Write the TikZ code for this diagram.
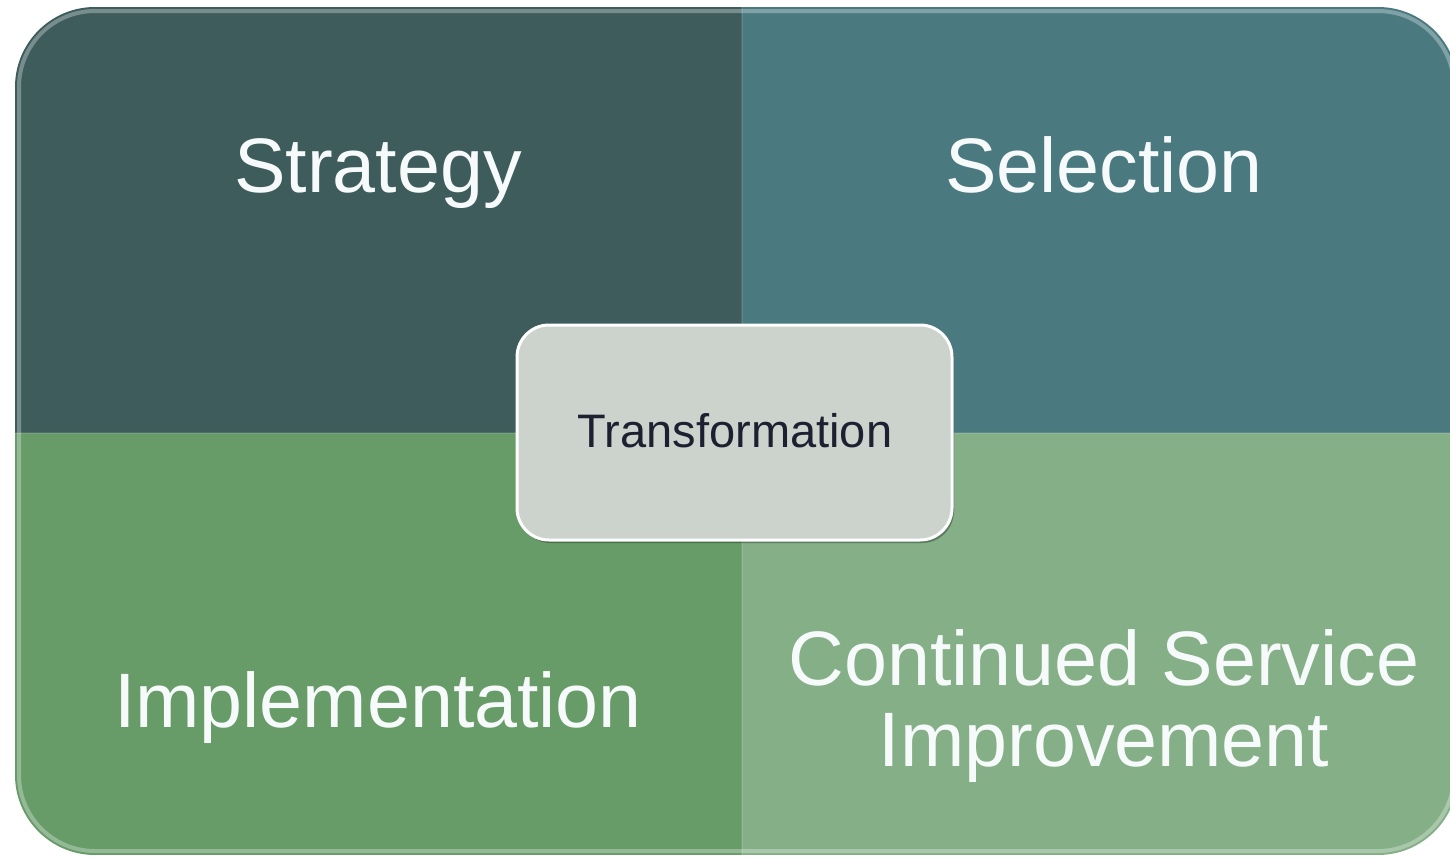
\documentclass[tikz,border=0pt]{standalone}
\usepackage{fontspec}
\setmainfont{Liberation Sans}
\usetikzlibrary{shadows}
\definecolor{qStrategy}{HTML}{3E5C5C}
\definecolor{qSelection}{HTML}{4A7A80}
\definecolor{qImplement}{HTML}{679C69}
\definecolor{qImprove}{HTML}{85AF87}
\definecolor{hubFill}{HTML}{CBD3CC}
\definecolor{hubText}{HTML}{1C2030}
\definecolor{labelText}{HTML}{F7FAFA}
\tikzset{
  quadlabel/.style={text=labelText, font=\fontsize{38.6bp}{41bp}\selectfont, anchor=base, inner sep=0pt},
  hubbox/.style={rounded corners=16bp, fill=hubFill, draw=white, line width=1.5bp,
    drop shadow={shadow xshift=1bp, shadow yshift=-1.5bp, fill=black, opacity=0.3},
    minimum width=217.5bp, minimum height=107.5bp, inner sep=0pt},
  hublabel/.style={text=hubText, font=\fontsize{23.5bp}{26bp}\selectfont, anchor=base, inner sep=0pt},
  seam/.style={line width=1bp, draw=white, opacity=0.1}
}
\begin{document}
\begin{tikzpicture}[x=0.5bp, y=-0.5bp]
  \useasboundingbox (0,0) rectangle (1450,858);
  % four quadrants inside one rounded outline
  \begin{scope}
    \clip[rounded corners=40bp] (15,7) rectangle (1458,855);
    \fill[qStrategy]  (15,7)    rectangle (742,433);
    \fill[qSelection] (742,7)   rectangle (1458,433);
    \fill[qImplement] (15,433)  rectangle (742,855);
    \fill[qImprove]   (742,433) rectangle (1458,855);
    % bevel highlight along the outline
    \draw[white, opacity=0.3, line width=2bp, rounded corners=38bp] (19,11) rectangle (1454,851);
    % seams between quadrants
    \draw[seam] (742,7) -- (742,855);
    \draw[seam] (15,433) -- (1458,433);
  \end{scope}
  % quadrant titles
  \node[quadlabel] (strategy) at (378,192) {Strategy};
  \node[quadlabel] (selection) at (1104,192) {Selection};
  \node[quadlabel] (implementation) at (378,727) {Implementation};
  \node[quadlabel] (csiA) at (1104,685) {Continued Service};
  \node[quadlabel] (csiB) at (1104,766) {Improvement};
  % central hub
  \node[hubbox] (hub) at (734.5,432.5) {};
  \node[hublabel] (hubtext) at (735,447) {Transformation};
\end{tikzpicture}
\end{document}
